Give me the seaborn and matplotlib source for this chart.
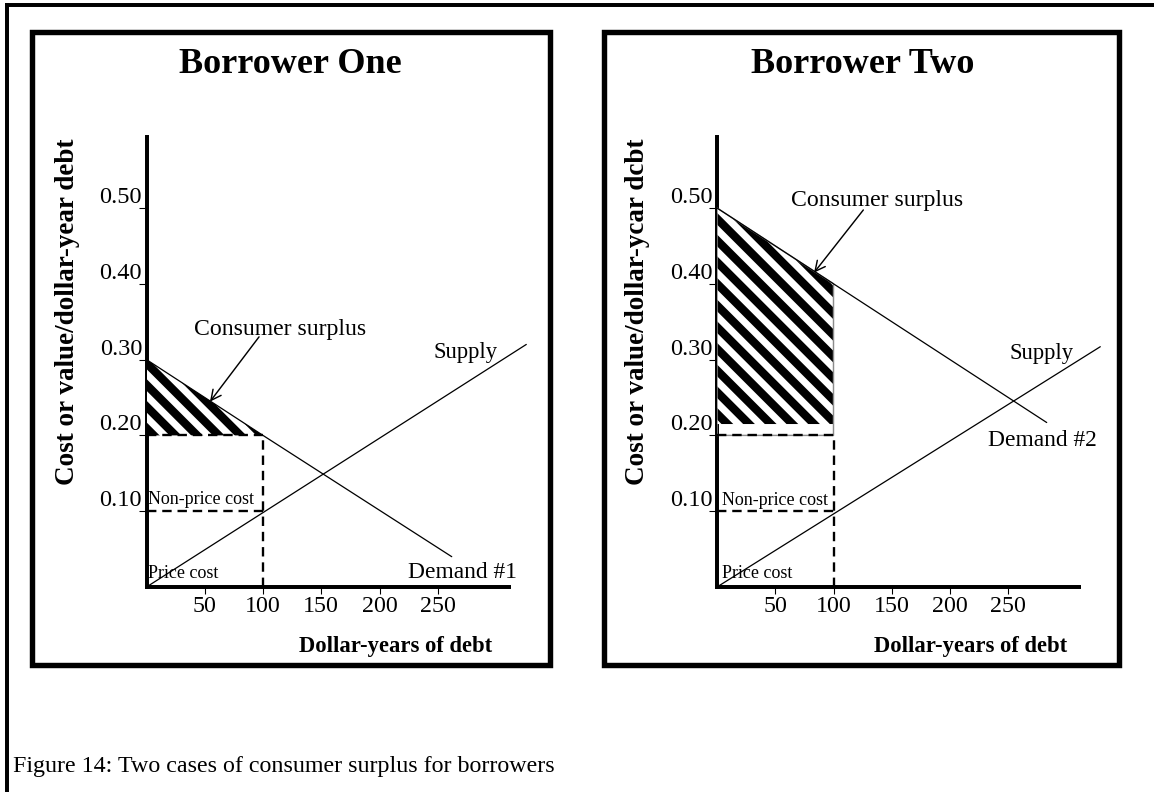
import matplotlib
matplotlib.use("Agg")
import matplotlib.pyplot as plt
import seaborn as sns
from matplotlib.patches import Rectangle
from matplotlib.lines import Line2D

# ---- values ----
x_ticks = [50, 100, 150, 200, 250]
y_ticks = [0.10, 0.20, 0.30, 0.40, 0.50]
y_tick_labels = ["0.10", "0.20", "0.30", "0.40", "0.50"]

quantity = 100        # dollar-years borrowed
price_cost = 0.10     # price cost
total_cost = 0.20     # price + non-price cost

supply1_x = [0, 326]
supply1_y = [0.0, 0.32]
demand1_x = [0, 100, 262]
demand1_y = [0.30, 0.20, 0.04]

supply2_x = [0, 329]
supply2_y = [0.0, 0.317]
demand2_x = [0, 100, 283]
demand2_y = [0.50, 0.40, 0.217]
surplus2_floor = 0.215   # hatch stops a little above the 0.20 line

titles = ["Borrower One", "Borrower Two"]
ylabels = ["Cost or value/dollar-year debt", "Cost or value/dollar-ycar dcbt"]
demand_labels = ["Demand #1", "Demand #2"]
caption = "Figure 14: Two cases of consumer surplus for borrowers"

# ---- page geometry (pixels) ----
W, H, DPI = 1154, 792, 130
XS, YS = 1.165, 758.0          # px per data unit
XMAX, YMAX = 345, 0.62


def fx(px):
    return px / W


def fy(py):
    return 1 - py / H


sns.set_theme(style="white")
plt.rcParams["font.family"] = ["Liberation Serif", "DejaVu Serif"]
plt.rcParams["text.color"] = "black"
plt.rcParams["axes.labelcolor"] = "black"
plt.rcParams["hatch.linewidth"] = 4.6

fig = plt.figure(figsize=(W / DPI, H / DPI), dpi=DPI)
fig.patch.set_facecolor("white")

# outer frame (top + left only) and panel frames
fig.add_artist(Line2D([fx(7), fx(W)], [fy(5), fy(5)], lw=2.2, color="black",
                      transform=fig.transFigure, solid_capstyle="projecting"))
fig.add_artist(Line2D([fx(7), fx(7)], [fy(5), fy(H + 5)], lw=2.2, color="black",
                      transform=fig.transFigure, solid_capstyle="projecting"))
for x0, x1 in [(32, 550), (604, 1119)]:
    fig.add_artist(Rectangle((fx(x0), fy(665)), fx(x1) - fx(x0), fy(32) - fy(665),
                             fill=False, lw=3, ec="black", joinstyle="miter",
                             transform=fig.transFigure))

panels = [
    dict(ox=146.5, sx=supply1_x, sy=supply1_y, dx=demand1_x, dy=demand1_y,
         cs_txt=(115, 0.3325), cs_tail=(96.6, 0.330), cs_head=(54.5, 0.2445),
         sup_txt=(274, 0.302), dem_txt=(271, 0.012), np_x=1.3, np_y=0.110,
         title_x=123.8, xl_x=214),
    dict(ox=717, sx=supply2_x, sy=supply2_y, dx=demand2_x, dy=demand2_y,
         cs_txt=(137.8, 0.502), cs_tail=(125.6, 0.4974), cs_head=(83.3, 0.4147),
         sup_txt=(278.5, 0.301), dem_txt=(279.4, 0.186), np_x=4, np_y=0.108,
         title_x=124.8, xl_x=217.6),
]

for i, p in enumerate(panels):
    ax = fig.add_axes([fx(p["ox"]), fy(587), XMAX * XS / W, YMAX * YS / H])
    ax.patch.set_visible(False)
    ax.set_xlim(0, XMAX)
    ax.set_ylim(0, YMAX)
    for s in ["top", "right"]:
        ax.spines[s].set_visible(False)
    for s in ["left", "bottom"]:
        ax.spines[s].set_linewidth(2.2)
        ax.spines[s].set_color("black")
    ax.spines["left"].set_bounds(0, 0.594)
    ax.spines["bottom"].set_bounds(0, 311)

    # supply and demand
    sns.lineplot(x=p["sx"], y=p["sy"], color="black", linewidth=0.7, ax=ax,
                 sort=False, zorder=4)
    sns.lineplot(x=p["dx"], y=p["dy"], color="black", linewidth=0.7, ax=ax,
                 sort=False, zorder=4)

    # consumer surplus (diagonal stripes)
    if i == 0:
        ax.fill_between(p["dx"][:2], total_cost, p["dy"][:2], facecolor="white",
                        edgecolor="black", linewidth=0, hatch="\\\\", zorder=3)
    else:
        ax.fill_between(p["dx"][:2], surplus2_floor, p["dy"][:2], facecolor="white",
                        edgecolor="black", linewidth=0, hatch="\\\\", zorder=3)
        ax.fill_between(p["dx"][:2], total_cost, p["dy"][:2], facecolor="none",
                        edgecolor="0.55", linewidth=0.8, zorder=3.2)

    # cost guide lines
    dash = (0, (4, 2.5))
    ax.hlines([price_cost, total_cost], 0, quantity, colors="black",
              linestyles=[dash], lw=1.3, zorder=3.3)
    ax.vlines(quantity, 0, total_cost, colors="black", linestyles=[dash],
              lw=1.3, zorder=3.3)

    # ticks
    ax.set_xticks(x_ticks)
    ax.set_xticklabels([str(v) for v in x_ticks])
    ax.set_yticks(y_ticks)
    ax.set_yticklabels(y_tick_labels)
    ax.tick_params(axis="x", bottom=True, length=4, width=0.6, color="black",
                   pad=1, labelsize=13.3, labelcolor="black")
    ax.tick_params(axis="y", left=True, length=4.4, width=0.6, color="black",
                   pad=-2, labelsize=13.5, labelcolor="black")
    for lab in ax.get_yticklabels():
        lab.set_verticalalignment("bottom")

    # axis labels
    ax.set_xlabel("Dollar-years of debt", fontsize=12.5, fontweight="bold")
    ax.xaxis.set_label_coords(p["xl_x"], -0.078, transform=ax.transData)
    ax.xaxis.label.set_verticalalignment("center")
    ax.set_ylabel(ylabels[i], fontsize=15, fontweight="bold")
    ax.yaxis.set_label_coords(-68, 0.363, transform=ax.transData)
    ax.yaxis.label.set_verticalalignment("center")
    ax.yaxis.label.set_horizontalalignment("center")

    # annotations
    ax.text(p["title_x"], 0.6777, titles[i], ha="center", va="baseline",
            fontsize=20, fontweight="bold")
    ax.text(*p["cs_txt"], "Consumer surplus", ha="center", va="baseline",
            fontsize=13.2)
    ax.annotate("", xy=p["cs_head"], xytext=p["cs_tail"],
                arrowprops=dict(arrowstyle="->", lw=0.8, color="black",
                                mutation_scale=14, shrinkA=0, shrinkB=0),
                zorder=5)
    ax.text(*p["sup_txt"], "Supply", ha="center", va="baseline", fontsize=12.5)
    ax.text(*p["dem_txt"], demand_labels[i], ha="center", va="baseline",
            fontsize=13)
    ax.text(p["np_x"], p["np_y"], "Non-price cost", ha="left", va="baseline",
            fontsize=10, zorder=6)
    ax.text(p["np_x"], 0.0125, "Price cost", ha="left", va="baseline",
            fontsize=10, zorder=6)

fig.text(fx(13), fy(772), caption, ha="left", va="baseline", fontsize=13.3)

fig.savefig("out.png", dpi=DPI, facecolor="white")
